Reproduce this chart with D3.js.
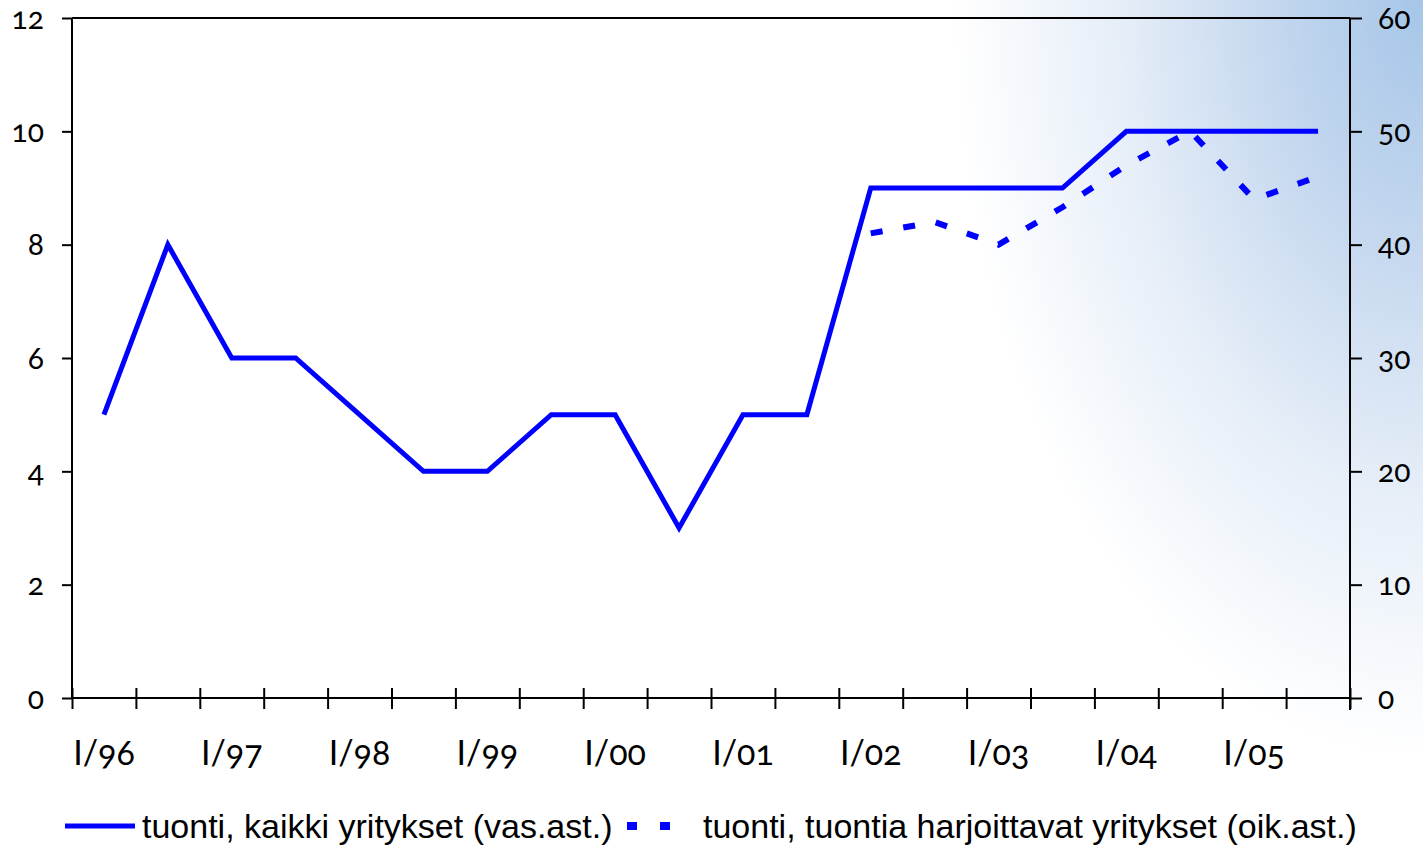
<!DOCTYPE html>
<html>
<head>
<meta charset="utf-8">
<script src="https://cdn.jsdelivr.net/npm/d3@7"></script>
<style>
  html, body { margin: 0; padding: 0; background: #fff; }
  svg { display: block; }
  .ax text { font-family: Lato, "Open Sans", sans-serif; font-size: 30px; fill: #000; font-variant-numeric: oldstyle-nums; }
  .xl text { font-size: 34px; }
  .leg { font-family: "Liberation Sans Narrow", "Liberation Sans", sans-serif; font-stretch: condensed; font-size: 34px; fill: #000; }
</style>
</head>
<body>
<svg id="chart" width="1423" height="848"></svg>
<script>
const periods = ["I/96","II/96","I/97","II/97","I/98","II/98","I/99","II/99","I/00","II/00",
                 "I/01","II/01","I/02","II/02","I/03","II/03","I/04","II/04","I/05","II/05"];
const kaikkiYritykset = [5, 8, 6, 6, 5, 4, 4, 5, 5, 3, 5, 5, 9, 9, 9, 9, 10, 10, 10, 10];
const harjoittavatYritykset = [null, null, null, null, null, null, null, null, null, null,
                               null, null, 41, 42, 40, 43.3, 47, 50, 44, 46];
const leftTicks = [0, 2, 4, 6, 8, 10, 12];
const rightTicks = [0, 10, 20, 30, 40, 50, 60];
const legendLabels = ["tuonti, kaikki yritykset (vas.ast.)", "tuonti, tuontia harjoittavat yritykset (oik.ast.)"];

const W = 1423, H = 848;
const m = { left: 72, right: 1350, top: 18, bottom: 698 };
const svg = d3.select("#chart");

// background gradient
const defs = svg.append("defs");
const grad = defs.append("radialGradient")
  .attr("id", "bg")
  .attr("gradientUnits", "userSpaceOnUse")
  .attr("cx", 0).attr("cy", 0).attr("r", 1)
  .attr("gradientTransform", `translate(${W},0) scale(470,760)`);
grad.append("stop").attr("offset", "0%").attr("stop-color", "#a6c6e8");
grad.append("stop").attr("offset", "30%").attr("stop-color", "#c2d6ee");
grad.append("stop").attr("offset", "65%").attr("stop-color", "#e6eef8");
grad.append("stop").attr("offset", "100%").attr("stop-color", "#ffffff");
svg.append("rect").attr("width", W).attr("height", H).attr("fill", "url(#bg)");

const x = d3.scaleBand().domain(periods).range([m.left, m.right]).padding(0);
const xEdge = d3.scaleLinear().domain([0, periods.length]).range([m.left, m.right]);
const yL = d3.scaleLinear().domain([0, 12]).range([m.bottom, m.top]);
const yR = d3.scaleLinear().domain([0, 60]).range([m.bottom, m.top]);

// top frame line
svg.append("line").attr("x1", m.left).attr("x2", m.right).attr("y1", m.top).attr("y2", m.top)
  .attr("stroke", "#000").attr("stroke-width", 2);

// left axis
const gL = svg.append("g").attr("class", "ax").attr("transform", `translate(${m.left},0)`)
  .call(d3.axisLeft(yL).tickValues(leftTicks).tickSize(10).tickPadding(18).tickFormat(d3.format("d")));
// right axis
const gR = svg.append("g").attr("class", "ax").attr("transform", `translate(${m.right},0)`)
  .call(d3.axisRight(yR).tickValues(rightTicks).tickSize(12).tickPadding(16).tickFormat(d3.format("d")));
// bottom axis: ticks at band edges crossing the axis
const gB = svg.append("g").attr("class", "ax").attr("transform", `translate(0,${m.bottom})`)
  .call(d3.axisBottom(xEdge).tickValues(d3.range(0, periods.length + 1)).tickSize(11).tickFormat(""));
gB.selectAll(".tick line").attr("y1", -10);
// x labels at centers of first-half periods
svg.append("g").attr("class", "ax xl")
  .selectAll("text").data(periods.filter(p => p.startsWith("I/")))
  .join("text")
  .attr("x", d => x(d) + x.bandwidth() / 2)
  .attr("y", 765)
  .attr("text-anchor", "middle")
  .text(d => d);

[gL, gR, gB].forEach(g => {
  g.select(".domain").attr("stroke", "#000").attr("stroke-width", 2);
  g.selectAll(".tick line").attr("stroke", "#000").attr("stroke-width", 2);
  g.selectAll("text").attr("fill", "#000");
});
gB.select(".domain").attr("d", `M${m.left},0H${m.right}`);
gL.select(".domain").attr("d", `M0,${m.bottom}V${m.top}`);
gR.select(".domain").attr("d", `M0,${m.bottom + 12}V${m.top}`);
gL.selectAll(".tick text").attr("dy", "0.34em");
gR.selectAll(".tick text").attr("dy", "0.34em");

const cx = d => x(d) + x.bandwidth() / 2;

// solid line
const lineL = d3.line().x((d, i) => cx(periods[i])).y(d => yL(d));
svg.append("path").datum(kaikkiYritykset)
  .attr("d", lineL).attr("fill", "none").attr("stroke", "#0000ff")
  .attr("stroke-width", 5).attr("stroke-linejoin", "miter");

// dashed line
const lineR = d3.line().defined(d => d != null).x((d, i) => cx(periods[i])).y(d => yR(d));
svg.append("path").datum(harjoittavatYritykset)
  .attr("d", lineR).attr("fill", "none").attr("stroke", "#0000ff")
  .attr("stroke-width", 6).attr("stroke-dasharray", "12 21");

// legend
const legY = 826;
svg.append("line").attr("x1", 65).attr("x2", 135).attr("y1", legY).attr("y2", legY)
  .attr("stroke", "#0000ff").attr("stroke-width", 5);
svg.append("text").attr("class", "leg").attr("x", 142).attr("y", legY + 12).text(legendLabels[0]);
svg.append("line").attr("x1", 627).attr("x2", 673).attr("y1", legY).attr("y2", legY)
  .attr("stroke", "#0000ff").attr("stroke-width", 8).attr("stroke-dasharray", "10 23");
svg.append("text").attr("class", "leg").attr("x", 703).attr("y", legY + 12).text(legendLabels[1]);
</script>
</body>
</html>
